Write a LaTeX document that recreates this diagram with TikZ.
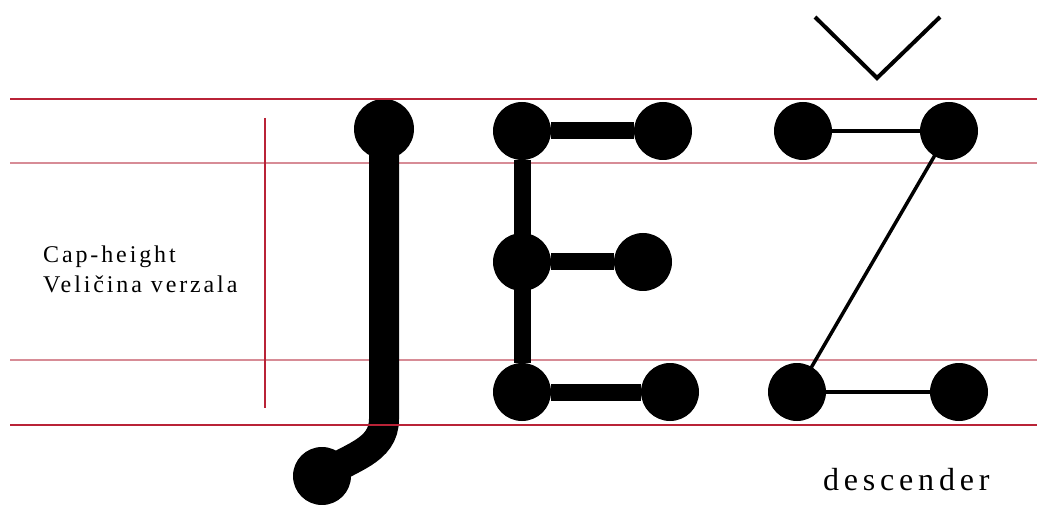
\documentclass[tikz,border=0pt]{standalone}
\usepackage{fontspec}
\setmainfont{Liberation Serif}
\newfontfamily\guidefont[LetterSpace=12]{Liberation Serif}
\newfontfamily\descfont[LetterSpace=15]{Liberation Serif}
\definecolor{guidered}{RGB}{185,35,55}
\definecolor{guidepale}{RGB}{215,140,150}
\begin{document}
\begin{tikzpicture}[x=1pt,y=-1pt,
    dot/.style={circle,fill=black,inner sep=0pt,minimum size=58pt},
    bigstroke/.style={line width=30pt},
    midstroke/.style={line width=17pt},
    thinstroke/.style={line width=3.5pt},
    mainline/.style={guidered,line width=2.6pt},
    paleline/.style={guidepale,line width=1.4pt}]
            \useasboundingbox (0,0) rectangle (1037,505);
            \draw[paleline] (10,163) -- (1037,163);
            \draw[paleline] (10,360) -- (1037,360);
            \node[dot,minimum size=60pt] (J1) at (384,129) {};
            \node[dot] (J2) at (322,476) {};
            \draw[bigstroke] (J1.center) -- (384,419) to[out=-90,in=35] (J2.center);
            \node[dot] (E1) at (522,131) {};
            \node[dot] (E2) at (663,131) {};
            \node[dot] (E3) at (522,262) {};
            \node[dot] (E4) at (643,262) {};
            \node[dot] (E5) at (522,392) {};
            \node[dot] (E6) at (670,392) {};
            \draw[midstroke] (E1) -- (E5);
            \draw[midstroke] (E1) -- (E2);
            \draw[midstroke] (E3) -- (E4);
            \draw[midstroke] (E5) -- (E6);
            \node[dot] (Z1) at (803,131) {};
            \node[dot] (Z2) at (949,131) {};
            \node[dot] (Z3) at (797,392) {};
            \node[dot] (Z4) at (959,392) {};
            \draw[thinstroke] (Z1) -- (Z2);
            \draw[thinstroke] (Z2.center) -- (Z3.center);
            \draw[thinstroke] (Z3) -- (Z4);
            \draw[line width=4pt] (815,17) -- (877,78) -- (940,17);
            \draw[mainline] (10,99) -- (1037,99);
            \draw[mainline] (10,425) -- (1037,425);
            \draw[guidered,line width=1.8pt] (265,118) -- (265,408);
            \node[anchor=base west,inner sep=0pt] (caplbl) at (43,263) {\guidefont\fontsize{24}{28}\selectfont Cap-height};
            \node[anchor=base west,inner sep=0pt] (verzlbl) at (43,293) {\guidefont\fontsize{24}{28}\selectfont Veličina verzala};
            \node[anchor=base west,inner sep=0pt] (desclbl) at (823,490) {\descfont\fontsize{32}{36}\selectfont descender};
\end{tikzpicture}
\end{document}
